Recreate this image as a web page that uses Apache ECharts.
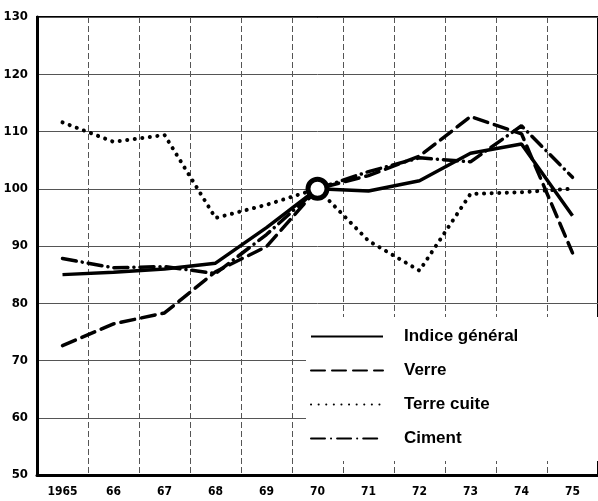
<!DOCTYPE html>
<html>
<head>
<meta charset="utf-8">
<script src="https://cdn.jsdelivr.net/npm/echarts@6/dist/echarts.min.js"></script>
<style>
  html, body { margin: 0; padding: 0; background: #fff; }
  #chart { width: 598px; height: 501px; }
</style>
</head>
<body>
<div id="chart"></div>
<script>
// années (abscisse) et indices (base 100 en 1970)
const years = ['1965', '66', '67', '68', '69', '70', '71', '72', '73', '74', '75'];
const indiceGeneral = [85.0, 85.4, 86.0, 87.0, 93.2, 100, 99.6, 101.4, 106.2, 107.8, 95.3];
const verre = [72.6, 76.4, 78.3, 85.5, 89.9, 100, 102.3, 105.7, 112.6, 109.6, 88.8];
const terreCuite = [111.6, 108.2, 109.4, 94.9, 97.2, 100, 90.9, 85.7, 99.1, 99.4, 100.0];
const ciment = [87.8, 86.2, 86.4, 85.2, 92.0, 100, 103.0, 105.4, 104.7, 111.0, 102.0];
const baseYear = [['70', 100]];
const yTicks = { min: 50, max: 130, step: 10 };

const labelFont = "'DejaVu Sans Condensed', 'Liberation Sans Narrow', sans-serif";

const chart = echarts.init(document.getElementById('chart'));

const lineSeries = (name, data, type, width) => ({
  name: name,
  type: 'line',
  data: data,
  symbol: 'none',
  itemStyle: { color: '#000' },
  lineStyle: { color: '#000', width: width || 3.5, type: type, cap: type === 'solid' ? 'butt' : 'round' },
  z: 3
});

chart.setOption({
  animation: false,
  grid: {
    left: 37, top: 17, width: 569, height: 458,
    show: true, borderColor: '#000', borderWidth: 2
  },
  xAxis: {
    type: 'category',
    data: years,
    boundaryGap: true,
    axisLine: { lineStyle: { color: '#000', width: 3 } },
    axisTick: { show: false },
    axisLabel: {
      margin: 11, color: '#000', fontFamily: labelFont,
      fontWeight: 'bold', fontSize: 12
    },
    splitLine: { show: true, lineStyle: { color: '#555', width: 1, type: [6, 3] } }
  },
  yAxis: {
    type: 'value',
    min: yTicks.min, max: yTicks.max, interval: yTicks.step,
    axisLine: { show: true, lineStyle: { color: '#000', width: 3 } },
    axisTick: { show: false },
    axisLabel: {
      margin: 9, color: '#000', fontFamily: labelFont,
      fontWeight: 'bold', fontSize: 13
    },
    splitLine: { show: true, lineStyle: { color: '#555', width: 1 } }
  },
  legend: {
    data: ['Indice général', 'Verre', 'Terre cuite', 'Ciment'],
    orient: 'vertical',
    left: 306, top: 317,
    padding: [11, 80, 14, 4],
    backgroundColor: '#fff',
    itemWidth: 72, itemHeight: 14, itemGap: 17,
    itemStyle: { opacity: 0 },
    textStyle: {
      color: '#000', fontFamily: "'Liberation Sans', Arial, sans-serif",
      fontWeight: 'bold', fontSize: 17, padding: [0, 0, 0, 16]
    },
    z: 5
  },
  series: [
    lineSeries('Indice général', indiceGeneral, 'solid'),
    lineSeries('Verre', verre, [14, 7]),
    lineSeries('Terre cuite', terreCuite, [0.1, 7.5], 4),
    lineSeries('Ciment', ciment, [14, 6, 0.1, 6]),
    {
      name: 'base',
      type: 'scatter',
      data: baseYear,
      symbol: 'circle',
      symbolSize: 19,
      itemStyle: { color: '#fff', borderColor: '#000', borderWidth: 5, opacity: 1 },
      z: 4
    }
  ]
});
</script>
</body>
</html>
